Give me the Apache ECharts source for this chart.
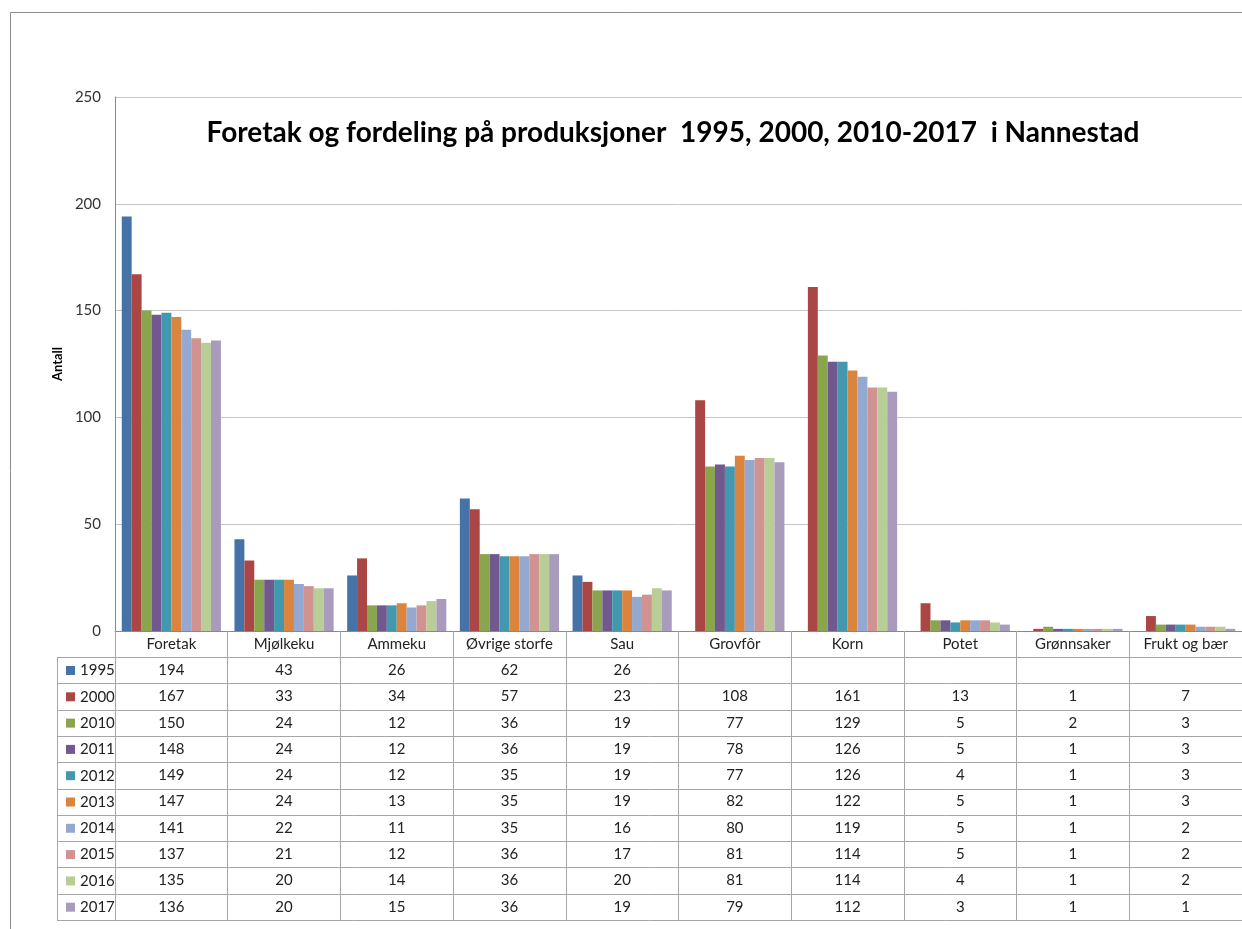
<!DOCTYPE html>
<html>
<head>
<meta charset="utf-8">
<script src="https://cdn.jsdelivr.net/npm/echarts@6/dist/echarts.min.js"></script>
<style>
  html, body { margin: 0; padding: 0; background: #fff; }
  #chart { width: 1242px; height: 929px; }
</style>
</head>
<body>
<div id="chart"></div>
<script>
// Kategorier og verdier (lest av fra tabellen)
const categories = ["Foretak", "Mjølkeku", "Ammeku", "Øvrige storfe", "Sau", "Grovfôr", "Korn", "Potet", "Grønnsaker", "Frukt og bær"];
const years = ["1995", "2000", "2010", "2011", "2012", "2013", "2014", "2015", "2016", "2017"];

const v1995 = [194, 43, 26, 62, 26, null, null, null, null, null];
const v2000 = [167, 33, 34, 57, 23, 108, 161, 13, 1, 7];
const v2010 = [150, 24, 12, 36, 19, 77, 129, 5, 2, 3];
const v2011 = [148, 24, 12, 36, 19, 78, 126, 5, 1, 3];
const v2012 = [149, 24, 12, 35, 19, 77, 126, 4, 1, 3];
const v2013 = [147, 24, 13, 35, 19, 82, 122, 5, 1, 3];
const v2014 = [141, 22, 11, 35, 16, 80, 119, 5, 1, 2];
const v2015 = [137, 21, 12, 36, 17, 81, 114, 5, 1, 2];
const v2016 = [135, 20, 14, 36, 20, 81, 114, 4, 1, 2];
const v2017 = [136, 20, 15, 36, 19, 79, 112, 3, 1, 1];

const allValues = [v1995, v2000, v2010, v2011, v2012, v2013, v2014, v2015, v2016, v2017];

const colors = ["#4572A7", "#AA4643", "#89A54E", "#71588F", "#4198AF", "#DB843D", "#93A9CF", "#D19392", "#B9CD96", "#A99BBD"];

const FONT = "Lato, 'Open Sans', sans-serif";
const lineColor = "#a6a6a6";

// tabell-geometri
const tableTop = 657;
const rowH = 26.3;
const tableLeft = 57;

const chart = echarts.init(document.getElementById("chart"));

const series = years.map((y, i) => ({
  name: y,
  type: "bar",
  data: allValues[i],
  itemStyle: { color: colors[i] },
  barGap: 0,
  barCategoryGap: "12%",
}));

const option = {
  animation: false,
  textStyle: { fontFamily: FONT },
  title: {
    text: "Foretak og fordeling på produksjoner  1995, 2000, 2010-2017  i Nannestad",
    left: 668,
    top: 114,
    textAlign: "center",
    textStyle: { fontFamily: FONT, fontSize: 28, fontWeight: "bold", color: "#000" },
  },
  legend: {
    orient: "vertical",
    left: 61,
    top: tableTop + 1,
    itemWidth: 9,
    itemHeight: 9,
    itemGap: rowH - 15,
    icon: "rect",
    selectedMode: false,
    textStyle: { fontFamily: FONT, fontSize: 15, color: "#222" },
    data: years,
  },
  grid: {
    left: 115,
    right: -10,
    top: 97,
    bottom: 298,
  },
  xAxis: {
    type: "category",
    data: categories,
    axisLine: { lineStyle: { color: "#888", width: 1 } },
    axisTick: { show: true, interval: 0, length: 289, lineStyle: { color: lineColor } },
    axisLabel: { interval: 0, margin: 6, fontSize: 15, color: "#222", fontFamily: FONT },
  },
  yAxis: {
    type: "value",
    min: 0,
    max: 250,
    interval: 50,
    name: "Antall",
    nameLocation: "middle",
    nameRotate: 90,
    nameGap: 51,
    nameTextStyle: { fontFamily: FONT, fontSize: 13, fontWeight: "bold", color: "#000" },
    axisLine: { show: true, lineStyle: { color: "#888" } },
    axisTick: { show: false },
    axisLabel: { fontSize: 15, color: "#333", margin: 14, fontFamily: FONT },
    splitLine: { lineStyle: { color: "#c4c4c4", width: 1 } },
  },
  series: series,
};

chart.setOption(option);

// tabell under grafen
const graphics = [];
// ytre ramme
graphics.push({
  type: "rect",
  shape: { x: 10.5, y: 12.5, width: 1300, height: 1000 },
  style: { fill: "none", stroke: "#8c8c8c", lineWidth: 1 },
  silent: true,
});
// venstre kant av radetiketter
graphics.push({
  type: "line",
  shape: { x1: tableLeft + 0.5, y1: tableTop, x2: tableLeft + 0.5, y2: tableTop + rowH * years.length },
  style: { stroke: lineColor, lineWidth: 1 },
});
// horisontale linjer
for (let r = 0; r <= years.length; r++) {
  const y = Math.round(tableTop + rowH * r) + 0.5;
  graphics.push({
    type: "line",
    shape: { x1: tableLeft, y1: y, x2: 1242, y2: y },
    style: { stroke: lineColor, lineWidth: 1 },
  });
}
// verdier
allValues.forEach((vals, r) => {
  const cy = tableTop + rowH * (r + 0.5);
  vals.forEach((v, c) => {
    if (v === null) return;
    const cx = chart.convertToPixel({ xAxisIndex: 0 }, c);
    graphics.push({
      type: "text",
      x: cx,
      y: cy,
      style: {
        text: String(v),
        fill: "#222",
        font: "15px " + FONT,
        align: "center",
        verticalAlign: "middle",
      },
    });
  });
});

chart.setOption({ graphic: graphics });
</script>
</body>
</html>
